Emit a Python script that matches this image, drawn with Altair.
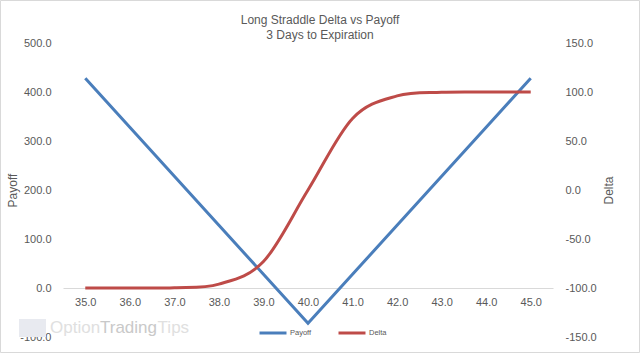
import altair as alt
import pandas as pd

# ---- data ----
strikes = [35, 36, 37, 38, 39, 40, 41, 42, 43, 44, 45]
payoff = [428, 328, 228, 128, 28, -72, 28, 128, 228, 328, 428]
delta = [-100, -100, -99.7, -96, -73, 0, 73, 96, 99.7, 100, 100]
series_names = ["Payoff", "Delta"]
series_colors = ["#4a7ebb", "#be4b48"]

title_lines = ["Long Straddle Delta vs Payoff", "3 Days to Expiration"]

FONT = "Liberation Sans"
GREY = "#595959"
LABEL_EXPR = "datum.value < 0 ? '-' + format(-datum.value, '.1f') : format(datum.value, '.1f')"

df_pay = pd.DataFrame({"Strike": strikes, "Payoff": payoff, "series": "Payoff"})
df_del = pd.DataFrame({"Strike": strikes, "Delta": delta, "series": "Delta"})

color = alt.Color(
    "series:N",
    scale=alt.Scale(domain=series_names, range=series_colors),
    legend=alt.Legend(
        title=None,
        orient="none",
        legendX=195,
        legendY=275,
        direction="horizontal",
        symbolType="stroke",
        symbolStrokeWidth=3,
        symbolSize=729,
        labelFontSize=7.5,
        labelFont=FONT,
        labelColor=GREY,
        labelOffset=2,
        columnPadding=20,
    ),
)

x_enc = alt.X(
    "Strike:Q",
    scale=alt.Scale(domain=[34.5, 45.5], nice=False, zero=False),
    axis=alt.Axis(
        title=None,
        values=strikes,
        format=".1f",
        offset=-49,
        grid=False,
        ticks=False,
        domainColor="#d9d9d9",
        domainWidth=1,
        labelPadding=8,
        labelFont=FONT,
        labelFontSize=11,
        labelColor=GREY,
    ),
)

pay_line = alt.Chart(df_pay).mark_line(strokeWidth=3).encode(
    x=x_enc,
    y=alt.Y(
        "Payoff:Q",
        scale=alt.Scale(domain=[-100, 500], nice=False),
        axis=alt.Axis(
            title="Payoff",
            orient="left",
            values=[-100, 0, 100, 200, 300, 400, 500],
            labelExpr=LABEL_EXPR,
            grid=False,
            ticks=False,
            domain=False,
            labelPadding=12,
            labelFont=FONT,
            labelFontSize=11,
            labelColor=GREY,
            titleFont=FONT,
            titleFontSize=12,
            titleFontWeight="normal",
            titleColor=GREY,
            titleAngle=270,
            titleX=-51,
            titleY=147,
            titleAlign="center",
            titleBaseline="middle",
        ),
    ),
    color=color,
)

del_line = alt.Chart(df_del).mark_line(strokeWidth=3, interpolate="cardinal").encode(
    x=alt.X("Strike:Q"),
    y=alt.Y(
        "Delta:Q",
        scale=alt.Scale(domain=[-150, 150], nice=False),
        axis=alt.Axis(
            title="Delta",
            orient="right",
            values=[-150, -100, -50, 0, 50, 100, 150],
            labelExpr=LABEL_EXPR,
            grid=False,
            ticks=False,
            domain=False,
            labelPadding=12,
            labelFont=FONT,
            labelFontSize=11,
            labelColor=GREY,
            titleFont=FONT,
            titleFontSize=12,
            titleFontWeight="normal",
            titleColor=GREY,
            titleAngle=270,
            titleX=55,
            titleY=147,
            titleAlign="center",
            titleBaseline="middle",
        ),
    ),
    color=color,
)

# ---- chart title as two text lines ----
title1 = alt.Chart().mark_text(
    text=title_lines[0], font=FONT, fontSize=12, color=GREY, align="center", baseline="middle"
).encode(x=alt.value(257), y=alt.value(-23))
title2 = alt.Chart().mark_text(
    text=title_lines[1], font=FONT, fontSize=12, color=GREY, align="center", baseline="middle"
).encode(x=alt.value(257), y=alt.value(-8))

# ---- decorations: chart border and watermark ----
border = alt.Chart().mark_rect(fill=None, stroke="#d9d9d9", strokeWidth=1).encode(
    x=alt.value(-62.5), x2=alt.value(576.5), y=alt.value(-42.5), y2=alt.value(309.5)
)
logo = alt.Chart().mark_rect(fill="#e8eaf0").encode(
    x=alt.value(-44), x2=alt.value(-17), y=alt.value(276), y2=alt.value(294)
)
wm_option = alt.Chart().mark_text(
    text="Option", font=FONT, fontSize=17, color="#e0e0e0", align="left", baseline="alphabetic"
).encode(x=alt.value(-13), y=alt.value(290))
wm_trading = alt.Chart().mark_text(
    text="Trading", font=FONT, fontSize=17, color="#c9c9c9", align="left", baseline="alphabetic"
).encode(x=alt.value(37), y=alt.value(290))
wm_tips = alt.Chart().mark_text(
    text="Tips", font=FONT, fontSize=17, color="#e0e0e0", align="left", baseline="alphabetic"
).encode(x=alt.value(94.6), y=alt.value(290))

chart = (
    alt.layer(border, logo, wm_option, wm_trading, wm_tips, title1, title2, pay_line, del_line)
    .resolve_scale(y="independent")
    .properties(
        width=490,
        height=294,
        padding={"left": 63, "top": 43, "right": 87, "bottom": 16},
        autosize=alt.AutoSizeParams(type="none"),
        background="white",
    )
    .configure_view(stroke=None)
)

chart.save("out.html", embed_options={"renderer": "svg", "actions": False})
